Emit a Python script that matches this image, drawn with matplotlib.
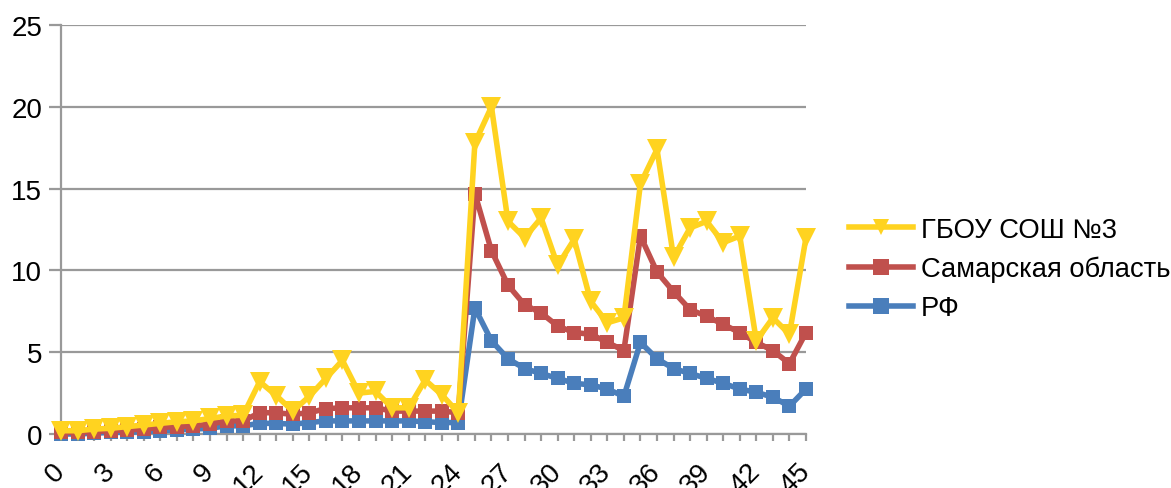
"""Line chart: ГБОУ СОШ №3 vs Самарская область vs РФ over 0..45."""
import matplotlib
matplotlib.use("Agg")
import matplotlib.pyplot as plt
import matplotlib.ticker as mticker
from matplotlib.lines import Line2D
import numpy as np

plt.rcParams["font.family"] = ["Liberation Sans", "DejaVu Sans"]

X = np.arange(0, 46)

SCHOOL = [0.2, 0.2, 0.3, 0.35, 0.45, 0.55, 0.65, 0.75, 0.8, 0.95, 1.1, 1.15,
          3.2, 2.35, 1.4, 2.3, 3.4, 4.5, 2.5, 2.6, 1.6, 1.6, 3.3, 2.4, 1.3,
          17.8, 20.0, 13.0, 12.0, 13.2, 10.3, 11.9, 8.1, 6.8, 7.1,
          15.3, 17.4, 10.8, 12.6, 13.0, 11.7, 12.1, 5.7, 7.1, 6.1, 12.0]
REGION = [0.1, 0.1, 0.15, 0.2, 0.25, 0.3, 0.4, 0.45, 0.5, 0.6, 0.8, 0.8,
          1.3, 1.3, 1.2, 1.3, 1.55, 1.6, 1.6, 1.6, 1.4, 1.4, 1.4, 1.4, 1.3,
          14.7, 11.2, 9.1, 7.9, 7.4, 6.6, 6.2, 6.1, 5.6, 5.1,
          12.1, 9.9, 8.7, 7.6, 7.2, 6.7, 6.2, 5.6, 5.1, 4.3, 6.2]
RF = [0.0, 0.0, 0.05, 0.1, 0.1, 0.15, 0.2, 0.25, 0.3, 0.35, 0.5, 0.5,
      0.65, 0.65, 0.6, 0.7, 0.8, 0.8, 0.8, 0.8, 0.8, 0.8, 0.75, 0.7, 0.7,
      7.7, 5.7, 4.6, 4.0, 3.7, 3.4, 3.1, 3.0, 2.75, 2.3,
      5.6, 4.6, 4.0, 3.7, 3.4, 3.1, 2.75, 2.55, 2.25, 1.7, 2.75]

LABELS = ["ГБОУ СОШ №3", "Самарская область", "РФ"]
YELLOW, RED, BLUE = "#FFD320", "#C0504D", "#4A7EBB"
GRID = "#999999"

fig = plt.figure(figsize=(11.71, 4.89), dpi=100)
ax = fig.add_axes([61 / 1171, 1 - 435 / 489, 745 / 1171, 409 / 489])

ax.plot(X, RF, color=BLUE, lw=4.0, marker="s", ms=9.5, mew=0,
        zorder=3, clip_on=False)
ax.plot(X, REGION, color=RED, lw=4.0, marker="s", ms=9.5, mew=0,
        zorder=4, clip_on=False)
ax.plot(X, SCHOOL, color=YELLOW, lw=4.0, marker="v", ms=15, mew=0,
        zorder=5, clip_on=False)

ax.set_xlim(0, 45)
ax.set_ylim(0, 25)
ax.yaxis.set_major_locator(mticker.MultipleLocator(5))
ax.xaxis.set_major_locator(mticker.MultipleLocator(3))
ax.xaxis.set_minor_locator(mticker.MultipleLocator(1))
ax.grid(axis="y", color=GRID, lw=1.6, zorder=0)
ax.set_axisbelow(True)

for s in ("top", "right"):
    ax.spines[s].set_visible(False)
for s in ("left", "bottom"):
    ax.spines[s].set_color(GRID)
    ax.spines[s].set_linewidth(1.6)

ax.tick_params(axis="y", length=8.6, width=1.6, color=GRID, pad=5,
               labelsize=20)
ax.tick_params(axis="x", which="both", length=5, width=1.6, color=GRID,
               direction="out")
ax.tick_params(axis="x", which="major", labelsize=20, pad=19)
for lab in ax.get_xticklabels():
    lab.set_rotation(45)
    lab.set_ha("right")
    lab.set_va("center")
    lab.set_rotation_mode("anchor")

# legend handles: markers there are drawn at their own size
handles = [
    Line2D([], [], color=YELLOW, lw=4.0, marker="v", ms=11, mew=0),
    Line2D([], [], color=RED, lw=4.0, marker="s", ms=12, mew=0),
    Line2D([], [], color=BLUE, lw=4.0, marker="s", ms=12, mew=0),
]
fig.legend(handles, LABELS, loc="center left",
           bbox_to_anchor=(849 / 1171, 1 - 270 / 489), frameon=False,
           fontsize=19.7, handlelength=2.34, handletextpad=0.3,
           labelspacing=0.48, borderpad=0, borderaxespad=0)

fig.savefig("out.png", dpi=100, facecolor="white")
